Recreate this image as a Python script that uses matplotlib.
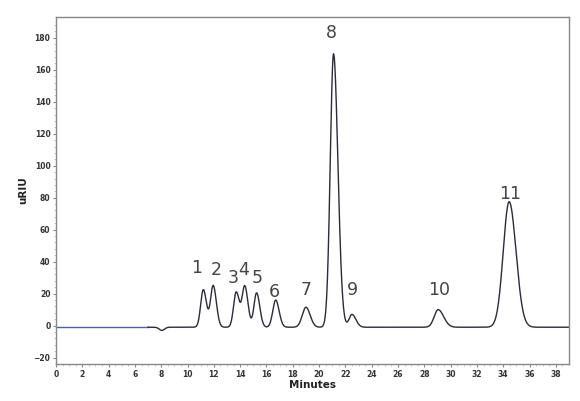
import numpy as np
import matplotlib
matplotlib.use('Agg')
import matplotlib.pyplot as plt

# peak table (minutes, uRIU above baseline, widths in minutes)
peakLabels = ['1', '2', '3', '4', '5', '6', '7', '8', '9', '10', '11']
peakTimes = [11.2, 11.95, 13.7, 14.35, 15.25, 16.7, 19.0, 21.1, 22.5, 29.05, 34.45]
peakHeights = [23.5, 26.0, 22.0, 25.5, 21.5, 17.0, 12.5, 171.0, 8.0, 11.0, 78.5]
frontWidths = [0.2, 0.2, 0.2, 0.2, 0.2, 0.22, 0.28, 0.25, 0.22, 0.3, 0.45]
tailWidths = [0.24, 0.24, 0.24, 0.24, 0.24, 0.26, 0.32, 0.33, 0.3, 0.42, 0.52]

# label positions (minutes, uRIU) as printed on the original
labelTimes = [10.7, 12.2, 13.5, 14.3, 15.3, 16.6, 19.0, 20.9, 22.5, 29.1, 34.5]
labelHeights = [36, 35, 30, 35, 30, 21, 22.5, 183, 22.5, 22.5, 82]

baseline = -1.0
dipTime = 8.05
dipDepth = -2.0
dipWidth = 0.2

def buildTrace(t):
    y = np.full(t.shape, baseline)
    y = y + dipDepth * np.exp(-0.5 * ((t - dipTime) / dipWidth) ** 2)
    for c, h, wf, wt in zip(peakTimes, peakHeights, frontWidths, tailWidths):
        w = np.where(t < c, wf, wt)
        y = y + h * np.exp(-0.5 * ((t - c) / w) ** 2)
    return y

def main():
    t = np.linspace(0, 39, 4000)
    y = buildTrace(t)

    fig = plt.figure(figsize=(5.8, 4.01), dpi=100)
    ax = fig.add_axes([56 / 580, 1 - 364 / 401, (569 - 56) / 580, (364 - 17) / 401])

    blue = t < 7.0
    ax.plot(t[blue], y[blue], color='#4a5fb0', lw=1.0)
    ax.plot(t[~blue], y[~blue], color='#2b2b3a', lw=1.0)

    for lab, lt, lh in zip(peakLabels, labelTimes, labelHeights):
        ax.text(lt, lh, lab, ha='center', va='center', fontsize=12.5, color='#444444',
                family='DejaVu Sans')

    ax.set_xlim(0, 39)
    ax.set_ylim(-24, 193)
    ax.set_xticks(np.arange(0, 39, 2))
    ax.set_yticks(np.arange(-20, 181, 20))
    ax.set_xticks(np.arange(0, 39, 0.5), minor=True)
    ax.set_yticks(np.arange(-20, 190, 4), minor=True)
    ax.tick_params(axis='both', which='major', labelsize=5.5, length=2, color='#888888',
                   labelcolor='#333333', pad=2)
    ax.tick_params(axis='both', which='minor', length=1.2, color='#bbbbbb')
    for lbl in ax.get_xticklabels() + ax.get_yticklabels():
        lbl.set_fontweight('bold')
    for s in ax.spines.values():
        s.set_color('#888888')
        s.set_linewidth(1.0)

    ax.set_xlabel('Minutes', fontsize=7.5, fontweight='bold', color='#222222', labelpad=1)
    ax.set_ylabel('uRIU', fontsize=7.5, fontweight='bold', color='#222222', labelpad=4)

    fig.savefig('out.png', dpi=100)
    plt.close(fig)

if __name__ == "__main__":
    main()
